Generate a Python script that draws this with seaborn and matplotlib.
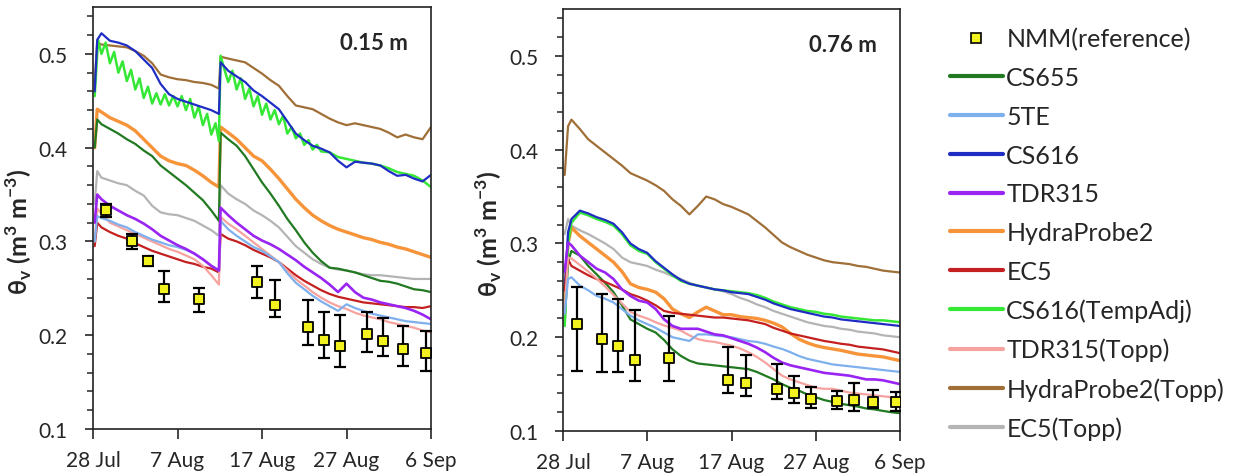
import numpy as np
import pandas as pd
import matplotlib
matplotlib.use("Agg")
import matplotlib.pyplot as plt
from matplotlib.lines import Line2D
import seaborn as sns

# ---------------- data ----------------
# days after 28 Jul
tick_days = [0, 10, 20, 30, 40]
tick_labels = ["28 Jul", "7 Aug", "17 Aug", "27 Aug", "6 Sep"]

sensors = ["CS655", "5TE", "CS616", "TDR315", "HydraProbe2", "EC5",
           "CS616(TempAdj)", "TDR315(Topp)", "HydraProbe2(Topp)", "EC5(Topp)"]
colors = ["#217a21", "#7fb0ee", "#1f2dc4", "#9a24f2", "#f7943a", "#c4201f",
          "#35e835", "#f6a3a0", "#a06f38", "#b4b4b4"]

# ---- 0.15 m depth ----
days_015 = [0.2, 0.5] + list(range(1, 15)) + [14.9, 15.1] + list(range(16, 41))
cs655_015 = [0.400, 0.430, 0.425, 0.420, 0.415, 0.409, 0.404, 0.397, 0.391, 0.381, 0.374, 0.367, 0.360, 0.352,
             0.344, 0.333, 0.322, 0.416, 0.409, 0.402, 0.391, 0.377, 0.363, 0.351, 0.338, 0.324, 0.312, 0.299,
             0.288, 0.279, 0.272, 0.271, 0.269, 0.267, 0.264, 0.261, 0.258, 0.257, 0.255, 0.252, 0.249, 0.248, 0.246]
te5_015 = [0.300, 0.327, 0.325, 0.322, 0.318, 0.315, 0.310, 0.306, 0.302, 0.299, 0.296, 0.294, 0.291, 0.287,
           0.281, 0.274, 0.269, 0.322, 0.313, 0.306, 0.300, 0.294, 0.290, 0.284, 0.278, 0.266, 0.256, 0.249,
           0.242, 0.236, 0.231, 0.226, 0.233, 0.229, 0.226, 0.223, 0.221, 0.219, 0.217, 0.215, 0.214, 0.213, 0.212]
cs616_015 = [0.460, 0.515, 0.522, 0.514, 0.512, 0.509, 0.503, 0.494, 0.485, 0.468, 0.457, 0.452, 0.449, 0.446,
             0.443, 0.440, 0.436, 0.491, 0.482, 0.476, 0.470, 0.461, 0.455, 0.448, 0.441, 0.428, 0.415, 0.408,
             0.402, 0.399, 0.395, 0.386, 0.379, 0.385, 0.384, 0.383, 0.381, 0.375, 0.370, 0.371, 0.367, 0.364, 0.371]
tdr315_015 = [0.320, 0.350, 0.345, 0.338, 0.333, 0.328, 0.324, 0.319, 0.313, 0.306, 0.301, 0.296, 0.292, 0.287,
              0.281, 0.274, 0.269, 0.336, 0.328, 0.320, 0.313, 0.306, 0.301, 0.297, 0.292, 0.286, 0.280, 0.273,
              0.267, 0.261, 0.254, 0.246, 0.255, 0.246, 0.240, 0.238, 0.235, 0.233, 0.231, 0.229, 0.226, 0.222, 0.217]
hp2_015 = [0.400, 0.441, 0.438, 0.432, 0.428, 0.424, 0.418, 0.409, 0.400, 0.391, 0.386, 0.383, 0.381, 0.376,
           0.370, 0.363, 0.358, 0.422, 0.416, 0.409, 0.400, 0.391, 0.386, 0.377, 0.367, 0.356, 0.345, 0.336,
           0.328, 0.322, 0.317, 0.313, 0.310, 0.307, 0.304, 0.302, 0.299, 0.297, 0.294, 0.292, 0.289, 0.286, 0.283]
ec5_015 = [0.295, 0.320, 0.315, 0.310, 0.306, 0.303, 0.298, 0.294, 0.290, 0.287, 0.284, 0.281, 0.278, 0.276,
           0.273, 0.271, 0.267, 0.308, 0.303, 0.300, 0.296, 0.291, 0.287, 0.283, 0.278, 0.271, 0.264, 0.258,
           0.253, 0.248, 0.244, 0.241, 0.239, 0.237, 0.235, 0.234, 0.233, 0.232, 0.231, 0.230, 0.230, 0.229, 0.231]
tdr315t_015 = [0.300, 0.335, 0.330, 0.320, 0.316, 0.312, 0.308, 0.304, 0.300, 0.296, 0.292, 0.289, 0.285, 0.281,
               0.274, 0.264, 0.254, 0.326, 0.319, 0.313, 0.306, 0.299, 0.292, 0.285, 0.278, 0.269, 0.260, 0.253,
               0.246, 0.240, 0.235, 0.231, 0.228, 0.224, 0.221, 0.219, 0.217, 0.214, 0.212, 0.210, 0.208, 0.205, 0.203]
hp2t_015 = [0.470, 0.512, 0.510, 0.509, 0.508, 0.507, 0.503, 0.498, 0.490, 0.478, 0.475, 0.473, 0.472, 0.470,
            0.469, 0.467, 0.463, 0.497, 0.495, 0.493, 0.491, 0.485, 0.479, 0.472, 0.466, 0.455, 0.445, 0.443,
            0.441, 0.436, 0.431, 0.427, 0.424, 0.426, 0.424, 0.422, 0.420, 0.416, 0.411, 0.414, 0.411, 0.409, 0.422]
ec5t_015 = [0.340, 0.375, 0.368, 0.365, 0.362, 0.360, 0.354, 0.349, 0.338, 0.331, 0.329, 0.328, 0.325, 0.322,
            0.317, 0.312, 0.306, 0.360, 0.351, 0.345, 0.340, 0.333, 0.328, 0.322, 0.315, 0.305, 0.295, 0.288,
            0.281, 0.276, 0.272, 0.270, 0.269, 0.267, 0.265, 0.264, 0.264, 0.263, 0.262, 0.261, 0.260, 0.260, 0.260]
# temperature-adjusted CS616 swings daily, so it is logged every half day
days_tadj_015 = [0.2, 0.6, 1.0, 1.5, 2.0, 2.5, 3.0, 3.5, 4.0, 4.5, 5.0, 5.5, 6.0, 6.5, 7.0, 7.5, 8.0, 8.5,
                 9.0, 9.5, 10.0, 10.5, 11.0, 11.5, 12.0, 12.5, 13.0, 13.5, 14.0, 14.5, 14.9, 15.1, 15.5,
                 16.0, 16.5, 17.0, 17.5, 18.0, 18.5, 19.0, 19.5, 20.0, 20.5, 21.0, 21.5, 22.0, 22.5, 23.0,
                 23.5, 24.0, 24.5, 25.0, 25.5, 26.0, 26.5, 27.0, 28.0, 29.0, 30.0, 31.0, 32.0, 33.0, 34.0,
                 35.0, 36.0, 37.0, 38.0, 39.0, 40.0]
cs616tadj_015 = [0.455, 0.515, 0.500, 0.512, 0.490, 0.502, 0.480, 0.492, 0.471, 0.483, 0.462, 0.474, 0.453,
                 0.465, 0.447, 0.458, 0.446, 0.457, 0.445, 0.455, 0.444, 0.455, 0.440, 0.452, 0.432, 0.444,
                 0.424, 0.436, 0.414, 0.426, 0.407, 0.498, 0.485, 0.470, 0.482, 0.462, 0.474, 0.452, 0.463,
                 0.444, 0.455, 0.435, 0.447, 0.430, 0.440, 0.425, 0.434, 0.415, 0.422, 0.410, 0.415, 0.403,
                 0.408, 0.398, 0.403, 0.396, 0.395, 0.390, 0.388, 0.386, 0.384, 0.383, 0.381, 0.378, 0.374,
                 0.372, 0.370, 0.365, 0.358]

nmm_days_015 = [1.5, 4.6, 6.5, 8.4, 12.5, 19.4, 21.5, 25.4, 27.3, 29.2, 32.4, 34.3, 36.7, 39.4]
nmm_015 = [0.333, 0.300, 0.279, 0.249, 0.239, 0.257, 0.232, 0.2085, 0.195, 0.189, 0.201, 0.194, 0.185, 0.181]
nmm_lo_015 = [0.326, 0.292, 0.274, 0.235, 0.2245, 0.2395, 0.219, 0.190, 0.176, 0.166, 0.1826, 0.178, 0.1676, 0.1616]
nmm_hi_015 = [0.340, 0.308, 0.285, 0.269, 0.250, 0.274, 0.259, 0.238, 0.225, 0.222, 0.2245, 0.218, 0.210, 0.205]

# ---- 0.76 m depth ----
days_076 = [0.2, 0.6] + list(range(1, 41))
cs655_076 = [0.215, 0.280, 0.292, 0.287, 0.276, 0.267, 0.258, 0.248, 0.234, 0.219, 0.214, 0.209, 0.205, 0.197,
             0.187, 0.180, 0.175, 0.172, 0.171, 0.170, 0.169, 0.168, 0.167, 0.166, 0.163, 0.159, 0.155, 0.150,
             0.146, 0.143, 0.139, 0.136, 0.133, 0.131, 0.129, 0.1275, 0.126, 0.124, 0.123, 0.1214, 0.120, 0.119]
te5_076 = [0.225, 0.262, 0.264, 0.255, 0.250, 0.244, 0.241, 0.237, 0.230, 0.223, 0.218, 0.214, 0.210, 0.205,
           0.200, 0.198, 0.196, 0.203, 0.203, 0.202, 0.201, 0.200, 0.198, 0.196, 0.195, 0.193, 0.190, 0.1875,
           0.184, 0.180, 0.177, 0.175, 0.173, 0.171, 0.170, 0.169, 0.168, 0.167, 0.166, 0.165, 0.164, 0.163]
cs616_076 = [0.250, 0.312, 0.326, 0.335, 0.332, 0.328, 0.325, 0.321, 0.312, 0.300, 0.294, 0.290, 0.281, 0.274,
             0.267, 0.261, 0.257, 0.255, 0.253, 0.251, 0.250, 0.248, 0.247, 0.246, 0.243, 0.240, 0.236, 0.233,
             0.230, 0.228, 0.226, 0.224, 0.222, 0.221, 0.219, 0.218, 0.217, 0.216, 0.215, 0.214, 0.213, 0.212]
tdr315_076 = [0.270, 0.301, 0.298, 0.287, 0.280, 0.273, 0.269, 0.262, 0.251, 0.244, 0.239, 0.237, 0.230, 0.219,
              0.212, 0.209, 0.209, 0.209, 0.206, 0.203, 0.202, 0.199, 0.196, 0.193, 0.189, 0.184, 0.178, 0.173,
              0.170, 0.168, 0.166, 0.164, 0.162, 0.161, 0.160, 0.159, 0.157, 0.155, 0.155, 0.154, 0.152, 0.150]
hp2_076 = [0.240, 0.300, 0.317, 0.308, 0.301, 0.294, 0.287, 0.280, 0.270, 0.257, 0.253, 0.251, 0.248, 0.241,
           0.230, 0.225, 0.221, 0.227, 0.232, 0.228, 0.224, 0.224, 0.222, 0.221, 0.220, 0.218, 0.215, 0.211,
           0.204, 0.198, 0.194, 0.191, 0.189, 0.1875, 0.186, 0.184, 0.182, 0.181, 0.180, 0.179, 0.177, 0.175]
ec5_076 = [0.250, 0.283, 0.276, 0.271, 0.266, 0.262, 0.259, 0.255, 0.251, 0.246, 0.243, 0.239, 0.234, 0.228,
           0.226, 0.225, 0.224, 0.223, 0.222, 0.221, 0.221, 0.220, 0.219, 0.218, 0.216, 0.214, 0.210, 0.207,
           0.204, 0.202, 0.200, 0.198, 0.196, 0.1946, 0.193, 0.192, 0.190, 0.189, 0.188, 0.187, 0.185, 0.183]
cs616tadj_076 = [0.212, 0.300, 0.322, 0.333, 0.330, 0.326, 0.323, 0.319, 0.310, 0.298, 0.292, 0.289, 0.280,
                 0.273, 0.266, 0.260, 0.257, 0.255, 0.253, 0.251, 0.250, 0.249, 0.248, 0.247, 0.245, 0.242,
                 0.238, 0.235, 0.232, 0.230, 0.228, 0.227, 0.225, 0.224, 0.222, 0.221, 0.220, 0.219, 0.218,
                 0.218, 0.217, 0.216]
tdr315t_076 = [0.230, 0.285, 0.284, 0.277, 0.270, 0.2625, 0.254, 0.245, 0.236, 0.227, 0.223, 0.220, 0.216,
               0.2125, 0.210, 0.207, 0.202, 0.198, 0.196, 0.195, 0.193, 0.191, 0.188, 0.184, 0.179, 0.173,
               0.166, 0.159, 0.155, 0.152, 0.149, 0.146, 0.145, 0.145, 0.143, 0.141, 0.140, 0.139, 0.138,
               0.137, 0.136, 0.135]
hp2t_076 = [0.373, 0.425, 0.432, 0.422, 0.411, 0.404, 0.397, 0.390, 0.383, 0.375, 0.371, 0.367, 0.362, 0.356,
            0.347, 0.340, 0.331, 0.340, 0.350, 0.347, 0.342, 0.339, 0.335, 0.331, 0.324, 0.317, 0.309, 0.301,
            0.296, 0.292, 0.288, 0.285, 0.282, 0.280, 0.279, 0.278, 0.276, 0.275, 0.273, 0.271, 0.270, 0.269]
ec5t_076 = [0.310, 0.326, 0.319, 0.314, 0.310, 0.305, 0.300, 0.294, 0.285, 0.280, 0.278, 0.276, 0.272, 0.269,
            0.265, 0.262, 0.258, 0.255, 0.253, 0.251, 0.249, 0.246, 0.242, 0.239, 0.235, 0.232, 0.228, 0.225,
            0.222, 0.219, 0.216, 0.214, 0.212, 0.211, 0.209, 0.208, 0.206, 0.205, 0.204, 0.202, 0.201, 0.200]

nmm_days_076 = [1.66, 4.67, 6.53, 8.5, 12.6, 19.6, 21.7, 25.4, 27.4, 29.4, 32.5, 34.5, 36.8, 39.5]
nmm_076 = [0.214, 0.198, 0.191, 0.176, 0.1775, 0.1546, 0.151, 0.1446, 0.1404, 0.1346, 0.132, 0.133, 0.131, 0.131]
nmm_lo_076 = [0.164, 0.163, 0.163, 0.1536, 0.1536, 0.140, 0.1375, 0.1346, 0.130, 0.125, 0.123, 0.1214, 0.125, 0.121]
nmm_hi_076 = [0.2536, 0.2457, 0.241, 0.229, 0.223, 0.190, 0.181, 0.1714, 0.159, 0.1464, 0.143, 0.151, 0.1436, 0.142]


def long_frame(series):
    rows = []
    for name, (d, v) in series.items():
        rows.append(pd.DataFrame({"day": d, "theta": v, "sensor": name}))
    return pd.concat(rows, ignore_index=True)


panel_015 = long_frame({
    "CS655": (days_015, cs655_015), "5TE": (days_015, te5_015), "CS616": (days_015, cs616_015),
    "TDR315": (days_015, tdr315_015), "HydraProbe2": (days_015, hp2_015), "EC5": (days_015, ec5_015),
    "CS616(TempAdj)": (days_tadj_015, cs616tadj_015), "TDR315(Topp)": (days_015, tdr315t_015),
    "HydraProbe2(Topp)": (days_015, hp2t_015), "EC5(Topp)": (days_015, ec5t_015),
})
panel_076 = long_frame({
    "CS655": (days_076, cs655_076), "5TE": (days_076, te5_076), "CS616": (days_076, cs616_076),
    "TDR315": (days_076, tdr315_076), "HydraProbe2": (days_076, hp2_076), "EC5": (days_076, ec5_076),
    "CS616(TempAdj)": (days_076, cs616tadj_076), "TDR315(Topp)": (days_076, tdr315t_076),
    "HydraProbe2(Topp)": (days_076, hp2t_076), "EC5(Topp)": (days_076, ec5t_076),
})

# ---------------- style ----------------
sns.set_style("ticks")
FONT = ["Lato", "DejaVu Sans"]
plt.rcParams["font.family"] = FONT
plt.rcParams["axes.linewidth"] = 1.2

palette = dict(zip(sensors, colors))
widths = {s: 1.6 for s in sensors}
widths["HydraProbe2"] = 2.4
widths["CS616(TempAdj)"] = 1.8
widths["TDR315"] = 1.9

fig = plt.figure(figsize=(12.37, 4.77), dpi=100)
ax_l = fig.add_axes([93 / 1237, 47 / 477, 338 / 1237, 422 / 477])
ax_r = fig.add_axes([563 / 1237, 45 / 477, 337 / 1237, 422 / 477])

draw_order = ["EC5(Topp)", "HydraProbe2(Topp)", "HydraProbe2", "CS655", "CS616(TempAdj)", "CS616",
              "EC5", "TDR315(Topp)", "5TE", "TDR315"]


def draw_panel(ax, df, nd, nv, nlo, nhi, depth_text):
    for s in draw_order:
        sns.lineplot(data=df[df["sensor"] == s], x="day", y="theta", color=palette[s],
                     linewidth=widths[s], estimator=None, sort=False, ax=ax, legend=False)
    nd = np.asarray(nd); nv = np.asarray(nv)
    yerr = np.vstack([nv - np.asarray(nlo), np.asarray(nhi) - nv])
    ax.errorbar(nd, nv, yerr=yerr, fmt="none", ecolor="black", elinewidth=1.6,
                capsize=4, capthick=1.6, zorder=5)
    sns.scatterplot(x=nd, y=nv, marker="s", s=60, color="#f2f21e", edgecolor="black",
                    linewidth=1.3, zorder=6, ax=ax, legend=False)
    ax.set_xlim(0, 40)
    ax.set_ylim(0.1, 0.55)
    ax.set_xticks(tick_days)
    ax.set_xticklabels(tick_labels)
    ax.set_yticks([0.1, 0.2, 0.3, 0.4, 0.5])
    ax.set_yticklabels(["0.1", "0.2", "0.3", "0.4", "0.5"])
    ax.set_yticks(np.arange(0.12, 0.55, 0.02), minor=True)
    ax.tick_params(axis="y", which="major", direction="out", length=6, width=1.2,
                   labelsize=15, pad=12)
    ax.tick_params(axis="y", which="minor", direction="out", length=4, width=1.1)
    ax.tick_params(axis="x", which="major", direction="out", length=7, width=1.2,
                   labelsize=15, pad=8)
    ax.set_xlabel("")
    ax.set_ylabel(r"θ$_\mathregular{v}$ (m$^\mathregular{3}$ m$^\mathregular{-3}$)",
                  fontsize=18, fontweight="bold")
    ax.yaxis.set_label_coords(-0.175, 0.47)
    for sp in ax.spines.values():
        sp.set_color("#222222")
        sp.set_linewidth(1.2)
    ax.text(0.83, 0.915, depth_text, transform=ax.transAxes, ha="center", va="center",
            fontsize=16, fontweight="bold")


draw_panel(ax_l, panel_015, nmm_days_015, nmm_015, nmm_lo_015, nmm_hi_015, "0.15 m")
draw_panel(ax_r, panel_076, nmm_days_076, nmm_076, nmm_lo_076, nmm_hi_076, "0.76 m")

handles = [Line2D([], [], linestyle="none", marker="s", markersize=7,
                  markerfacecolor="#f2f21e", markeredgecolor="black", markeredgewidth=1.2)]
handles += [Line2D([], [], color=palette[s], linewidth=3) for s in sensors]
labels = ["NMM(reference)"] + sensors
fig.legend(handles, labels, loc="upper left", bbox_to_anchor=(940 / 1237, 1 - 18 / 477),
           frameon=False, fontsize=18, handlelength=2.1, handletextpad=0.15,
           labelspacing=0.63, borderaxespad=0)

fig.savefig("out.png", dpi=100)
